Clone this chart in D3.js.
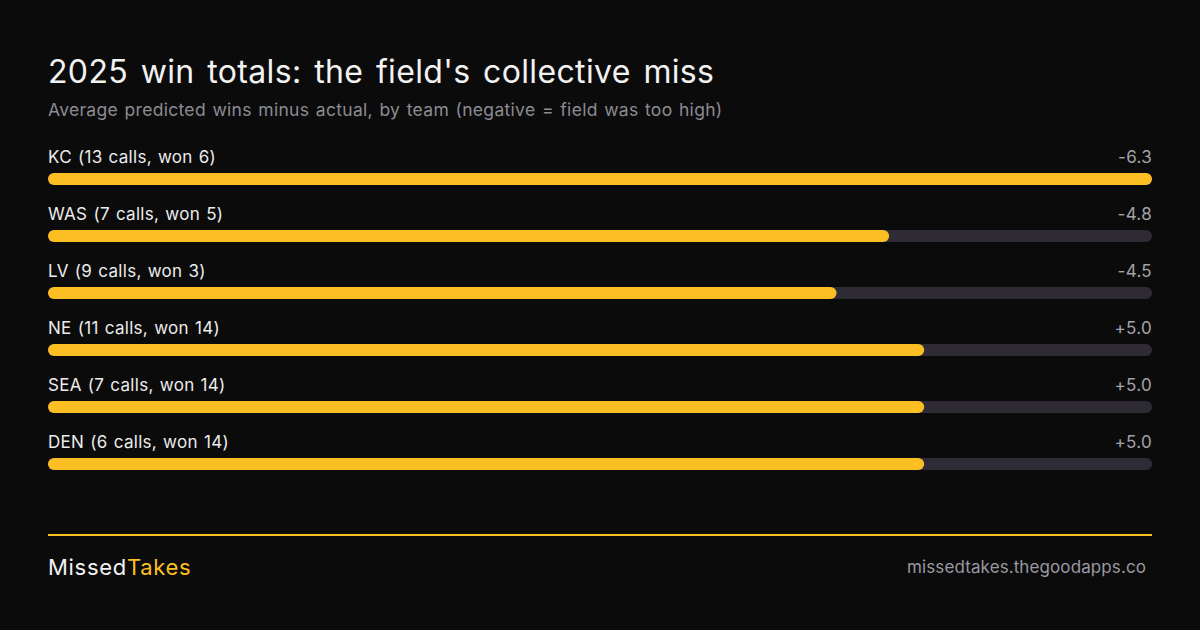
<!DOCTYPE html>
<html><head><meta charset="utf-8">
<script src="https://cdn.jsdelivr.net/npm/d3@7"></script>
<style>
html,body{margin:0;padding:0;background:#0b0b0b;}
svg{display:block;}
text{font-family:Inter,"Noto Sans",sans-serif;}
</style></head>
<body>
<svg id="c" width="1200" height="630"></svg>
<script>
const teams = ["KC","WAS","LV","NE","SEA","DEN"];
const calls = [13,7,9,11,7,6];
const actualWins = [6,5,3,14,14,14];
const missValues = [-6.3,-4.8,-4.5,5.0,5.0,5.0];

const title = "2025 win totals: the field's collective miss";
const subtitle = "Average predicted wins minus actual, by team (negative = field was too high)";

const W = 1200, H = 630;
const left = 48, right = 1152;
const svg = d3.select("#c");
svg.append("rect").attr("width",W).attr("height",H).attr("fill","#0b0b0b");

svg.append("text").attr("x",left).attr("y",83).attr("fill","#f2f2f2")
  .attr("font-size",32).attr("letter-spacing",0.35).attr("word-spacing",3.3).text(title);
svg.append("text").attr("x",left).attr("y",116).attr("fill","#8c8b93")
  .attr("font-size",17.5).attr("letter-spacing",0.3).attr("word-spacing",1.3).text(subtitle);

const x = d3.scaleLinear().domain([0, d3.max(missValues, v=>Math.abs(v))]).range([0, right-left]);
const y = d3.scaleBand().domain(teams).range([144, 486]).paddingInner(0).paddingOuter(0);

const rows = svg.selectAll("g.row").data(teams).join("g").attr("class","row")
  .attr("transform", d=>`translate(0,${y(d)})`);

rows.append("text").attr("x",left).attr("y",19).attr("fill","#ececec").attr("font-size",17)
  .attr("letter-spacing",0.3).attr("word-spacing",1)
  .text((d,i)=>`${d} (${calls[i]} calls, won ${actualWins[i]})`);
rows.append("text").attr("x",right).attr("y",19).attr("text-anchor","end").attr("fill","#a3a2aa").attr("font-size",17)
  .attr("letter-spacing",0.3)
  .text((d,i)=>(missValues[i]>0?"+":"")+missValues[i].toFixed(1));
rows.append("rect").attr("x",left).attr("y",29).attr("height",12).attr("rx",6)
  .attr("width",right-left).attr("fill","#2e2b35");
rows.append("rect").attr("x",left).attr("y",29).attr("height",12).attr("rx",6)
  .attr("width",(d,i)=>x(Math.abs(missValues[i]))).attr("fill","#fbbf24");

svg.append("rect").attr("x",left).attr("y",534).attr("width",right-left).attr("height",2).attr("fill","#fbbf24");
const brand = svg.append("text").attr("x",left).attr("y",575).attr("font-size",22).attr("letter-spacing",0.7);
brand.append("tspan").attr("fill","#f2f2f2").text("Missed");
brand.append("tspan").attr("fill","#fbbf24").text("Takes");
svg.append("text").attr("x",1146).attr("y",573).attr("text-anchor","end").attr("fill","#9a99a1")
  .attr("font-size",17).attr("letter-spacing",0.1).text("missedtakes.thegoodapps.co");
</script>
</body></html>
